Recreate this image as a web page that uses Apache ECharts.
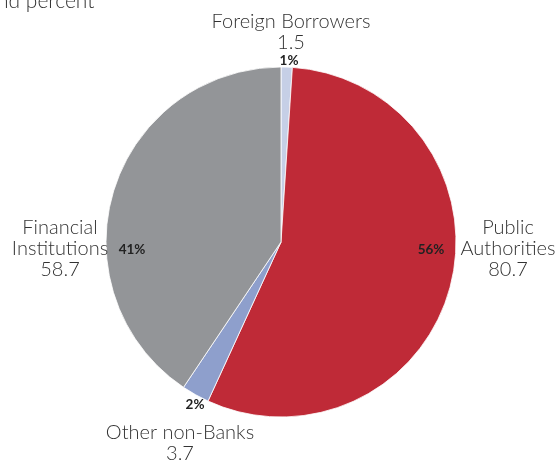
<!DOCTYPE html>
<html><head><meta charset="utf-8">
<script src="https://cdn.jsdelivr.net/npm/echarts@6/dist/echarts.min.js"></script>
<style>html,body{margin:0;padding:0;background:#fff}#c{width:557px;height:461px}</style>
</head><body><div id="c"></div>
<script>
const categories = ['Foreign Borrowers', 'Public\nAuthorities', 'Other non-Banks', 'Financial\nInstitutions'];
const values = [1.5, 80.7, 3.7, 58.7];
const colors = ['#C6CFE6', '#BF2A37', '#8E9FCC', '#939598'];
// label anchor points (text placement only)
const pctLabelPos = [[289, 61], [431, 250], [195, 405], [132, 250]];
const nameLabelPos = [[291, 32], [508, 249], [180, 443], [60, 249]];

const chart = echarts.init(document.getElementById('c'));
const data = categories.map((n, i) => ({name: n, value: values[i], itemStyle: {color: colors[i]}}));
const FONT = 'Lato';
chart.setOption({
  animation: false,
  graphic: [{type: 'text', x: -3, y: -9, style: {text: 'nd percent', font: '300 21px Lato', fill: '#333', verticalAlign: 'top'}}],
  series: [
    {
      type: 'pie', center: [281, 242], radius: 175, startAngle: 90, clockwise: true,
      percentPrecision: 0,
      data: data,
      itemStyle: {borderColor: '#fff', borderWidth: 0.8},
      label: {show: true, position: 'inside', formatter: '{d}%', fontFamily: FONT, fontWeight: 'bold', fontSize: 13.5, color: '#222'},
      labelLine: {show: false},
      labelLayout: function (p) { const q = pctLabelPos[p.dataIndex]; return {x: q[0], y: q[1], align: 'center', verticalAlign: 'middle'}; }
    },
    {
      type: 'pie', center: [281, 242], radius: 175, startAngle: 90, clockwise: true, silent: true,
      data: data.map(d => ({name: d.name, value: d.value, itemStyle: {color: 'rgba(0,0,0,0)'}})),
      label: {show: true, position: 'inside', formatter: '{b}\n{c}', fontFamily: FONT, fontWeight: 300, fontSize: 20, lineHeight: 21, color: '#333', align: 'center'},
      labelLine: {show: false},
      labelLayout: function (p) { const q = nameLabelPos[p.dataIndex]; return {x: q[0], y: q[1], align: 'center', verticalAlign: 'middle'}; }
    }
  ]
});
</script></body></html>
